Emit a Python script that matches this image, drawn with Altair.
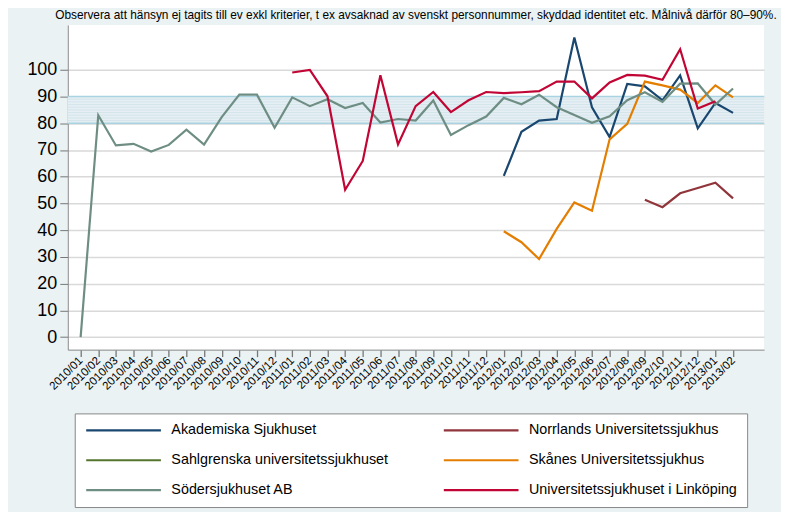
import json
import altair as alt
import pandas as pd

months = ["2010/01", "2010/02", "2010/03", "2010/04", "2010/05", "2010/06", "2010/07",
          "2010/08", "2010/09", "2010/10", "2010/11", "2010/12", "2011/01", "2011/02",
          "2011/03", "2011/04", "2011/05", "2011/06", "2011/07", "2011/08", "2011/09",
          "2011/10", "2011/11", "2011/12", "2012/01", "2012/02", "2012/03", "2012/04",
          "2012/05", "2012/06", "2012/07", "2012/08", "2012/09", "2012/10", "2012/11",
          "2012/12", "2013/01", "2013/02"]

# legend is filled column by column: first column, then second column
series_names = ["Akademiska Sjukhuset", "Sahlgrenska universitetssjukhuset",
                "Södersjukhuset AB", "Norrlands Universitetssjukhus",
                "Skånes Universitetssjukhus", "Universitetssjukhuset i Linköping"]
series_colors = ["#1a476f", "#55752f", "#6e8e84", "#90353b", "#e37e00", "#c10534"]

akademiska_start = "2012/01"
akademiska = [60.3, 76.8, 81.0, 81.6, 112.1, 86.0, 74.8, 94.7, 93.8, 88.6, 97.9, 78.1, 87.6, 83.9]

norrlands_start = "2012/09"
norrlands = [51.4, 48.6, 53.8, 55.8, 57.8, 51.9]

sahlgrenska_start = "2012/01"
sahlgrenska = []

skanes_start = "2012/01"
skanes = [39.6, 35.5, 29.2, 40.5, 50.4, 47.3, 74.0, 79.8, 95.6, 94.2, 92.6, 87.6, 94.2, 89.7]

soder_start = "2010/01"
soder = [0.0, 83.0, 71.7, 72.3, 69.4, 71.9, 77.6, 72.0, 82.3, 90.7, 90.7, 78.3,
         89.7, 86.4, 89.0, 85.7, 87.6, 80.3, 81.6, 81.0, 88.5, 75.6, 79.3, 82.5,
         89.5, 87.1, 90.7, 86.0, 83.1, 80.2, 82.6, 88.6, 91.6, 88.0, 94.8, 94.9,
         87.0, 93.0]

linkoping_start = "2011/01"
linkoping = [99.0, 100.0, 90.1, 55.1, 65.9, 98.0, 72.1, 86.4, 91.7, 84.2, 88.6, 91.7,
             91.3, 91.6, 92.0, 95.6, 95.6, 89.3, 95.3, 98.1, 97.8, 96.3, 107.7, 85.5, 88.2]

target_low, target_high = 80, 90
hatch_levels = [81, 82, 83, 84, 85, 86, 87, 88, 89]
y_ticks = [0, 10, 20, 30, 40, 50, 60, 70, 80, 90, 100]

title_text = ("Observera att hänsyn ej tagits till ev exkl kriterier, t ex avsaknad av svenskt "
              "personnummer, skyddad identitet etc. Målnivå därför 80–90%.")

rows = []
for name, start, vals in [
    ("Akademiska Sjukhuset", akademiska_start, akademiska),
    ("Norrlands Universitetssjukhus", norrlands_start, norrlands),
    ("Sahlgrenska universitetssjukhuset", sahlgrenska_start, sahlgrenska),
    ("Skånes Universitetssjukhus", skanes_start, skanes),
    ("Södersjukhuset AB", soder_start, soder),
    ("Universitetssjukhuset i Linköping", linkoping_start, linkoping),
]:
    s = months.index(start)
    for k, v in enumerate(vals):
        rows.append({"idx": s + k, "value": v, "series": name})
df = pd.DataFrame(rows)

FONT = "Liberation Sans"
W, H = 699, 326
xdom = [-0.73, 38.76]
ydom = [-4.7, 116.8]

label_expr = json.dumps(months) + "[datum.value]"

xscale = alt.Scale(domain=xdom, nice=False, zero=False)
yscale = alt.Scale(domain=ydom, nice=False, zero=False)

yaxis = alt.Axis(values=y_ticks, title=None, grid=True, gridColor="#d9d9d9",
                 gridWidth=1.5, labelFontSize=18, labelFont=FONT,
                 labelColor="#000", tickSize=8, tickColor="#777",
                 domainColor="#888", labelPadding=3, labelFlush=False,
                 labelOverlap=False)

band = alt.Chart(pd.DataFrame({"lo": [target_low], "hi": [target_high]})).mark_rect(
    color="#e6eff3"
).encode(
    y=alt.Y("lo:Q", scale=yscale, axis=yaxis),
    y2="hi:Q",
)

hatch = alt.Chart(pd.DataFrame({"v": hatch_levels})).mark_rule(
    color="#d4e4ec", strokeWidth=1
).encode(y=alt.Y("v:Q", scale=yscale, axis=yaxis))

edges = alt.Chart(pd.DataFrame({"v": [target_low, target_high]})).mark_rule(
    color="#a9d3e1", strokeWidth=1.5
).encode(y=alt.Y("v:Q", scale=yscale, axis=yaxis))

lines = alt.Chart(df).mark_line(strokeWidth=2.2, clip=True).encode(
    x=alt.X("idx:Q", scale=xscale,
            axis=alt.Axis(values=list(range(len(months))), labelExpr=label_expr,
                          title=None, grid=False, labelAngle=315, labelAlign="right",
                          labelBaseline="middle", labelFontSize=11.5, labelFont=FONT,
                          labelColor="#000", labelPadding=2, tickSize=7,
                          tickColor="#777", domainColor="#888", tickWidth=1.3,
                          labelOverlap=False, labelBound=False, labelFlush=False)),
    y=alt.Y("value:Q", scale=yscale, axis=yaxis),
    color=alt.Color("series:N",
                    scale=alt.Scale(domain=series_names, range=series_colors),
                    legend=alt.Legend(orient="none", legendX=7, legendY=390, columns=2,
                                      title=None, symbolType="stroke", symbolSize=5625,
                                      symbolStrokeWidth=2.2, clipHeight=14,
                                      labelFontSize=14.4, labelFont=FONT, labelColor="#000",
                                      labelOffset=9, rowPadding=15, columnPadding=54,
                                      padding=10, fillColor="white", strokeColor="#888",
                                      labelLimit=0)),
    detail="series:N",
)

chart = alt.layer(band, hatch, edges, lines).properties(
    width=W, height=H,
    title=alt.TitleParams(title_text, fontSize=11.9, font=FONT, fontWeight="normal",
                          color="#000", anchor="middle", offset=3),
    autosize=alt.AutoSizeParams(type="none"),
    padding={"left": 60, "top": 16, "right": 17, "bottom": 162},
).configure(background="#eaf2f3").configure_view(fill="white", stroke=None)

chart.save("out.html", embed_options={"renderer": "svg", "actions": False})
